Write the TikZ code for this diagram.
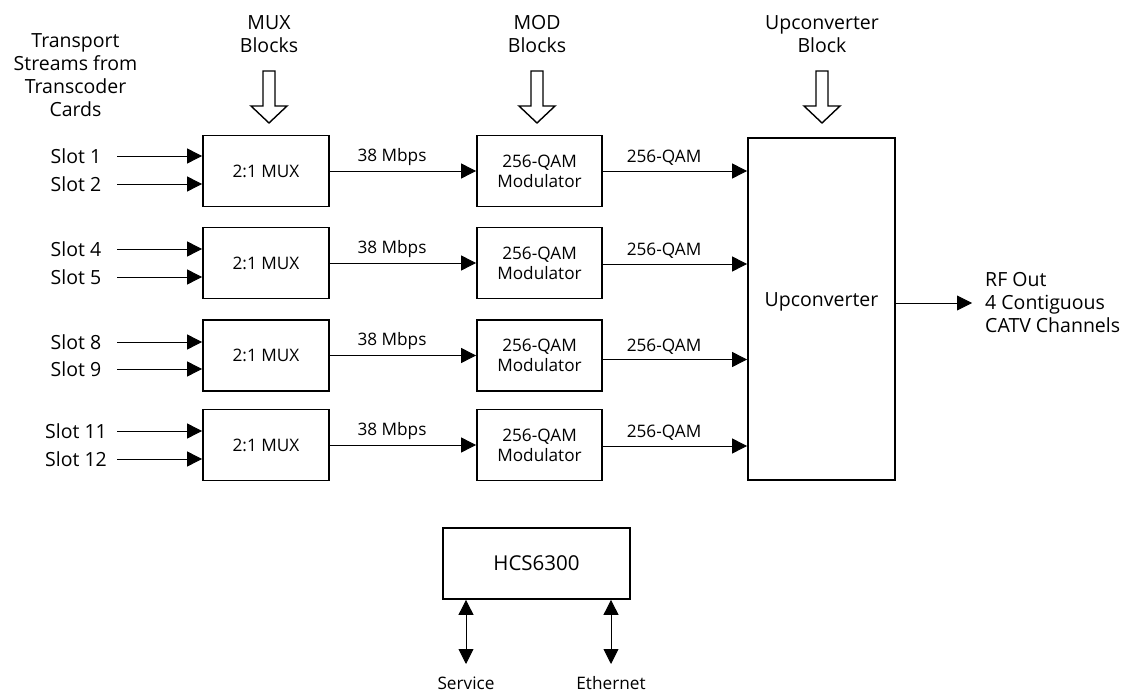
\documentclass[tikz,border=0pt]{standalone}
\usepackage{fontspec}
\setmainfont{Open Sans}
\usetikzlibrary{arrows.meta}
\tikzset{
  box/.style={draw, line width=1.8pt, inner sep=0pt},
  conn/.style={line width=0.9pt, -{Triangle[length=15pt,width=15pt]}},
  dconn/.style={line width=0.9pt, {Triangle[length=15pt,width=15pt]}-{Triangle[length=15pt,width=15pt]}},
  big/.style={font=\fontsize{19.5}{23}\selectfont, align=center, inner sep=0pt},
  small/.style={font=\fontsize{17.2}{20}\selectfont, align=center, inner sep=0pt},
  edgelabel/.style={small, above=5pt, xshift=-11pt},
  hollow/.style={draw, line width=1.4pt, fill=white, line join=miter},
}
\begin{document}
\begin{tikzpicture}[x=1pt,y=-1pt]
\path[use as bounding box] (0,0) rectangle (1140,692);

% header labels
\node[big] (ts) at (75.5,75) {Transport\\Streams from\\Transcoder\\Cards};
\node[big] (muxh) at (269,34) {MUX\\Blocks};
\node[big] (modh) at (537,34) {MOD\\Blocks};
\node[big] (uph) at (822,34) {Upconverter\\Block};

% hollow arrows
\foreach \cx/\nm in {269/ha1, 537/ha2, 822/ha3}{
  \draw[hollow] (\cx-6,71) -- (\cx+6,71) -- (\cx+6,106) -- (\cx+18,106) -- (\cx,123)
     -- (\cx-18,106) -- (\cx-6,106) -- cycle;
}

% upconverter
\node[box, minimum width=147pt, minimum height=342pt] (up) at (821.5,309) {};
\node[big] (uplabel) at (821.5,302) {Upconverter};

% rows
\foreach \i/\cy/\sa/\sb/\la/\lb/\oy in {1/171/156/184/Slot 1/Slot 2/0, 2/263/249/277/Slot 4/Slot 5/1, 3/355.5/342/369/Slot 8/Slot 9/4, 4/445/431/459/Slot 11/Slot 12/1}{
  \node[box, small, minimum width=126pt, minimum height=71pt] (mux\i) at (266,\cy) {2:1 MUX};
  \node[box, small, minimum width=125pt, minimum height=71pt] (mod\i) at (539.5,\cy) {256-QAM\\Modulator};
  \node[big] (sa\i) at (76,\sa) {\la};
  \node[big] (sb\i) at (76,\sb) {\lb};
  \coordinate (ca\i) at (117,\sa);
  \coordinate (cb\i) at (117,\sb);
  \draw[conn] (ca\i) -- (ca\i -| mux\i.west);
  \draw[conn] (cb\i) -- (cb\i -| mux\i.west);
  \draw[conn] (mux\i.east) -- node[edgelabel] (rate\i) {38 Mbps} (mod\i.west);
  \draw[conn] ([yshift=-\oy pt]mod\i.east) -- node[edgelabel] (qam\i) {256-QAM} ([yshift=-\oy pt]mod\i.east -| up.west);
}

% output
\coordinate (rfend) at (972,303);
\draw[conn] (rfend -| up.east) -- (rfend);
\node[big, align=left, anchor=west] (rf) at (985,303) {RF Out\\4 Contiguous\\CATV Channels};

% HCS6300
\node[box, font=\fontsize{20.5}{24}\selectfont, minimum width=187pt, minimum height=71pt] (hcs) at (536.5,563.5) {HCS6300};
\coordinate (svc) at (466,664);
\coordinate (eth) at (611,664);
\draw[dconn] (svc |- hcs.south) -- (svc);
\draw[dconn] (eth |- hcs.south) -- (eth);
\node[small, anchor=base] (svcl) at (466,689) {Service};
\node[small, anchor=base] (ethl) at (611,689) {Ethernet};
\end{tikzpicture}
\end{document}
